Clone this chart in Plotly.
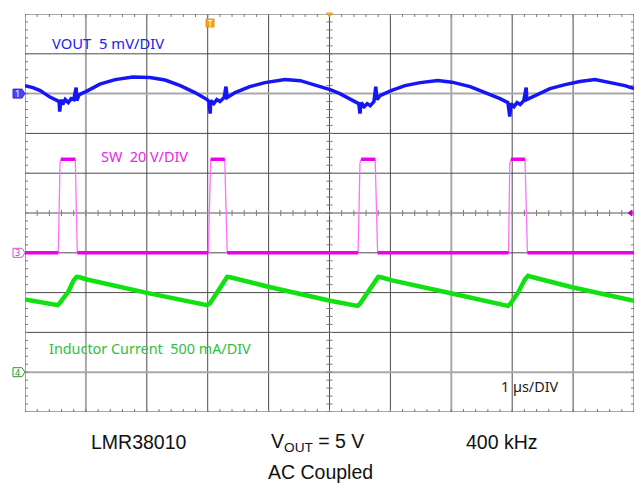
import plotly.graph_objects as go

# ---------------- data (read from the scope capture) ----------------
# Channel 1: VOUT, AC coupled, 5 mV/div  (time in µs, value in mV)
vout_t = [0.00, 0.13, 0.25, 0.41, 0.53, 0.56, 0.57, 0.59, 0.62, 0.66, 0.71, 0.76, 0.80, 0.84, 0.85, 0.89,
          1.00, 1.23, 1.48, 1.77, 2.05, 2.30, 2.55, 2.79, 2.99, 3.02, 3.04, 3.05, 3.10, 3.15, 3.20, 3.27,
          3.30, 3.32, 3.45, 3.69, 3.94, 4.27, 4.52, 4.76, 5.01, 5.17, 5.42, 5.48, 5.50, 5.52, 5.57, 5.62,
          5.67, 5.73, 5.76, 5.78, 5.83, 6.01, 6.24, 6.49, 6.78, 7.01, 7.31, 7.55, 7.80, 7.93, 7.96, 7.98,
          8.03, 8.08, 8.13, 8.19, 8.23, 8.24, 8.37, 8.62, 8.87, 9.11, 9.36, 9.61, 9.85, 10.00]
vout_mv = [1.00, 0.75, 0.38, -0.44, -0.88, -1.00, -2.26, -0.75, -1.38, -0.75, -1.13, -0.63, -0.75, 0.75, -0.88, -0.13,
           0.25, 1.19, 1.76, 2.07, 2.01, 1.70, 1.00, 0.13, -0.75, -1.00, -2.51, -0.88, -1.26, -0.75, -1.00, -0.50,
           0.88, -0.50, 0.13, 0.88, 1.38, 1.76, 1.63, 1.13, 0.50, 0.00, -1.00, -1.26, -2.51, -1.13, -1.63, -1.26,
           -1.51, -1.00, 0.88, -0.75, -0.25, 0.38, 1.00, 1.38, 1.63, 1.44, 0.88, 0.19, -0.63, -1.13, -2.89, -1.26,
           -1.63, -1.13, -1.38, -0.88, 0.75, -0.75, -0.25, 0.63, 1.13, 1.51, 1.76, 1.38, 1.00, 0.63]

# Channel 3: SW node, 20 V/div  (time in µs, value in V)
sw_t = [0.00, 0.547, 0.575, 0.59, 0.826, 0.859,
        3.01, 3.04, 3.05, 3.28, 3.32,
        5.47, 5.50, 5.52, 5.75, 5.79,
        7.94, 7.96, 7.98, 8.21, 8.25, 10.00]
sw_v = [0, 0, 45, 47, 47, 0,
        0, 45, 47, 47, 0,
        0, 45, 47, 47, 0,
        0, 45, 47, 47, 0, 0]

# Channel 4: inductor current, 500 mA/div  (time in µs, value in mA)
il_t = [0.00, 0.54, 0.57, 0.71, 0.80, 0.85, 0.90, 1.00, 2.00, 2.99, 3.04, 3.17, 3.27, 3.32, 3.37,
        4.01, 5.01, 5.46, 5.50, 5.63, 5.75, 5.80, 5.85, 6.01, 7.01, 7.93, 7.97, 8.10, 8.21, 8.26,
        8.31, 9.00, 10.00]
il_ma = [913, 842, 867, 1011, 1156, 1197, 1193, 1168, 996, 842, 867, 1017, 1156, 1197, 1193,
         1071, 898, 833, 860, 1005, 1156, 1197, 1193, 1156, 988, 833, 860, 1005, 1168, 1210,
         1199, 1064, 896]

# channel settings: (scale per div, reference position in divisions)
CH1_SCALE, CH1_POS = 5.0, 3.0
CH3_SCALE, CH3_POS = 20.0, -1.0
CH4_SCALE, CH4_POS = 500.0, -4.0

N_XDIV, N_YDIV = 10, 10

def to_div(vals, scale, pos):
    return [v / scale + pos for v in vals]

fig = go.Figure()

# ---------------- minor ticks on borders and centre lines ----------------
tx, ty = [], []
xl = 0.05   # tick half-length in x divisions
yl = 0.075  # tick half-length in y divisions
for i in range(N_XDIV * 5 + 1):
    x = i / 5
    tx += [x, x, None, x, x, None, x, x, None]
    ty += [5, 5 - yl, None, -5, -5 + yl, None, -yl, yl, None]
for j in range(N_YDIV * 5 + 1):
    y = -5 + j / 5
    tx += [0, xl, None, 10, 10 - xl, None, 5 - xl, 5 + xl, None]
    ty += [y, y, None, y, y, None, y, y, None]
fig.add_trace(go.Scatter(x=tx, y=ty, mode="lines", line=dict(color="#7a7a7a", width=1),
                         hoverinfo="skip", showlegend=False, cliponaxis=False))

# ---------------- waveforms ----------------
fig.add_trace(go.Scatter(x=il_t, y=to_div(il_ma, CH4_SCALE, CH4_POS), mode="lines",
                         line=dict(color="#11e011", width=4.5), showlegend=False, hoverinfo="skip"))

sw_div = to_div(sw_v, CH3_SCALE, CH3_POS)
fig.add_trace(go.Scatter(x=sw_t, y=sw_div, mode="lines",
                         line=dict(color="#ff70ff", width=1.3), showlegend=False, hoverinfo="skip"))
fx, fy = [], []
for i in range(len(sw_t) - 1):
    if sw_v[i] == sw_v[i + 1]:
        fx += [sw_t[i], sw_t[i + 1], None]
        fy += [sw_div[i], sw_div[i + 1], None]
fig.add_trace(go.Scatter(x=fx, y=fy, mode="lines", line=dict(color="#ee00ee", width=3.5),
                         showlegend=False, hoverinfo="skip"))

fig.add_trace(go.Scatter(x=vout_t, y=to_div(vout_mv, CH1_SCALE, CH1_POS), mode="lines",
                         line=dict(color="#1515f5", width=3.5), showlegend=False, hoverinfo="skip"))

# ---------------- grid ----------------
shapes = []
light_x = {1, 7, 10}
light_y = {5, 3, 0, -4}
for i in range(N_XDIV + 1):
    lt = i in light_x
    shapes.append(dict(type="line", xref="x", yref="paper", x0=i, x1=i, y0=0, y1=1, layer="below",
                       line=dict(color="#a9a9a9" if lt else "#4a4a4a", width=2 if lt else 1)))
for j in range(N_YDIV + 1):
    y = -5 + j
    lt = y in light_y
    shapes.append(dict(type="line", xref="paper", yref="y", x0=0, x1=1, y0=y, y1=y, layer="below",
                       line=dict(color="#a9a9a9" if lt else "#4a4a4a", width=2 if lt else 1)))

# ---------------- channel markers ----------------
PLOT_W, PLOT_H = 609.0, 398.0
def px_to_paper_x(px):
    return px / PLOT_W
def div_to_paper_y(d):
    return (d + 5) / 10.0

annotations = []
for num, pos, fill, edge, txt in [("1", CH1_POS, "#4646f0", "#2a2ae0", "white"),
                                  ("3", CH3_POS, "white", "#cc55cc", "#cc33cc"),
                                  ("4", CH4_POS, "white", "#229a22", "#1d8f1d")]:
    yc = div_to_paper_y(pos)
    h = 4.5 / PLOT_H
    x0, x1, x2 = px_to_paper_x(-12), px_to_paper_x(-3), px_to_paper_x(0)
    path = (f"M {x0},{yc + h} L {x1},{yc + h} L {x2},{yc} L {x1},{yc - h} L {x0},{yc - h} Z")
    shapes.append(dict(type="path", xref="paper", yref="paper", path=path,
                       fillcolor=fill, line=dict(color=edge, width=1)))
    annotations.append(dict(xref="paper", yref="paper", x=px_to_paper_x(-7.5), y=yc, text=num,
                            showarrow=False, xanchor="center", yanchor="middle",
                            font=dict(family="Noto Sans", size=9, color=txt)))

# trigger position marker (orange "T") and top trigger triangle
shapes.append(dict(type="rect", xref="paper", yref="paper",
                   x0=px_to_paper_x(181), x1=px_to_paper_x(189),
                   y0=(412 - 27) / PLOT_H, y1=(412 - 19) / PLOT_H,
                   fillcolor="#f5a31c", line=dict(color="#f09000", width=1)))
annotations.append(dict(xref="paper", yref="paper", x=px_to_paper_x(185), y=(412 - 23) / PLOT_H,
                        text="T", showarrow=False, xanchor="center", yanchor="middle",
                        font=dict(family="Noto Sans", size=8, color="white")))
cx = 0.5
shapes.append(dict(type="path", xref="paper", yref="paper",
                   path=f"M {cx - 3 / PLOT_W},{1 + 1 / PLOT_H} L {cx + 3 / PLOT_W},{1 + 1 / PLOT_H} L {cx},{1 - 3 / PLOT_H} Z",
                   fillcolor="#f5a31c", line=dict(color="#f5a31c", width=1)))
ty0 = div_to_paper_y(0)
shapes.append(dict(type="path", xref="paper", yref="paper",
                   path=f"M {px_to_paper_x(607)},{ty0 + 3 / PLOT_H} L {px_to_paper_x(603)},{ty0} L {px_to_paper_x(607)},{ty0 - 3 / PLOT_H} Z",
                   fillcolor="#c000c0", line=dict(color="#c000c0", width=1)))

# ---------------- labels ----------------
scope_font = "Noto Sans"
def lab(text, px, py, color, size=14.4, anchor="left", family=scope_font):
    annotations.append(dict(xref="paper", yref="paper", x=(px - 25) / PLOT_W, y=(412 - py) / PLOT_H,
                            text=text, showarrow=False, xanchor=anchor, yanchor="middle",
                            font=dict(family=family, size=size, color=color)))

lab("VOUT \u00a05 mV/DIV", 50, 43, "#2020f0", size=14.8)
lab("SW \u00a020 V/DIV", 99, 156, "#ee22ee")
lab("Inductor Current \u00a0500 mA/DIV", 47, 348, "#30c040")
lab("1 µs/DIV", 499, 386, "#1a1a1a")

bf = "Liberation Sans"
lab("LMR38010", 139, 442, "#111111", size=19.5, anchor="center", family=bf)
lab("V<sub>OUT</sub> = 5 V", 317, 442, "#111111", size=19.5, anchor="center", family=bf)
lab("400 kHz", 502, 442, "#111111", size=19.5, anchor="center", family=bf)
lab("AC Coupled", 320, 472, "#111111", size=19.5, anchor="center", family=bf)

fig.update_layout(
    width=637, height=487, autosize=False,
    margin=dict(l=25, r=3, t=14, b=75, pad=0),
    paper_bgcolor="white", plot_bgcolor="white",
    xaxis=dict(range=[0, N_XDIV], showgrid=False, zeroline=False, showticklabels=False,
               ticks="", fixedrange=True),
    yaxis=dict(range=[-N_YDIV / 2, N_YDIV / 2], showgrid=False, zeroline=False,
               showticklabels=False, ticks="", fixedrange=True),
    shapes=shapes, annotations=annotations,
)

fig.write_html("out.html", config={"displayModeBar": False})

# remove the browser's default page margin so the figure sits at the window origin
with open("out.html", "r", encoding="utf-8") as f:
    html = f.read()
html = html.replace("<head>", "<head><style>html,body{margin:0;padding:0;overflow:hidden;}</style>", 1)
with open("out.html", "w", encoding="utf-8") as f:
    f.write(html)
